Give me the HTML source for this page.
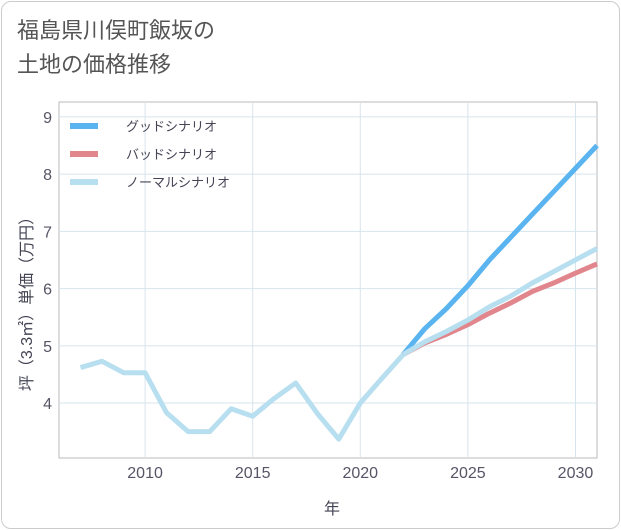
<!DOCTYPE html>
<html><head><meta charset="utf-8"><style>
body{margin:0;background:#fff;font-family:"Liberation Sans","Noto Sans CJK JP",sans-serif;}
#card{position:absolute;left:1px;top:1px;width:617px;height:526px;border:1px solid #ccc;border-radius:10px;background:#fff;}
#title{position:absolute;left:17px;top:14px;font-size:22px;line-height:34px;color:#555;}
</style></head><body>
<div id="card"></div>
<div id="title">福島県川俣町飯坂の<br>土地の価格推移</div>
<svg id="chart" width="621" height="530" style="position:absolute;left:0;top:0"></svg>
<script>
const years=[2007,2008,2009,2010,2011,2012,2013,2014,2015,2016,2017,2018,2019,2020,2021,2022];
const hist=[4.62,4.73,4.53,4.53,3.83,3.5,3.5,3.9,3.77,4.08,4.35,3.82,3.37,4.0,4.43,4.85];
const fYears=[2022,2023,2024,2025,2026,2027,2028,2029,2030,2031];
const good=[4.85,5.3,5.65,6.05,6.5,6.9,7.3,7.7,8.1,8.5];
const bad=[4.85,5.05,5.2,5.37,5.57,5.75,5.95,6.1,6.27,6.43];
const normal=[4.85,5.07,5.25,5.45,5.68,5.87,6.1,6.3,6.5,6.7];
const xTicks=[2010,2015,2020,2025,2030];
const yTicks=[4,5,6,7,8,9];
const L=59,R=597,T=102,B=458,x0=2006,x1=2031,y0=3.04,y1=9.26;
const X=v=>L+(v-x0)/(x1-x0)*(R-L), Y=v=>B-(v-y0)/(y1-y0)*(B-T);
const svg=document.getElementById('chart');const NS='http://www.w3.org/2000/svg';
function mk(t,a,txt){const e=document.createElementNS(NS,t);for(const k in a)e.setAttribute(k,a[k]);if(txt!==undefined)e.textContent=txt;svg.appendChild(e);return e;}
let e=mk('rect',{x:L,y:T,width:R-L,height:B-T,fill:'#fff',stroke:'#bbb'});


xTicks.forEach(t=>{let g=mk('line',{x1:X(t),x2:X(t),y1:T,y2:B,stroke:'#d6e4ee'});


let l=mk('text',{x:X(t),y:478,'text-anchor':'middle','font-size':16,fill:'#556'},t);

});
yTicks.forEach(t=>{let g=mk('line',{x1:L,x2:R,y1:Y(t),y2:Y(t),stroke:'#d6e4ee'});


let l=mk('text',{x:52,y:Y(t)+6,'text-anchor':'end','font-size':16,fill:'#556'},t);

});
e=mk('text',{x:332,y:514,'text-anchor':'middle','font-size':16,fill:'#445'},'年');


e=mk('text',{x:0,y:0,'text-anchor':'middle','font-size':16,fill:'#445',transform:'translate(32,300) rotate(-90)'},'坪（3.3㎡）単価（万円）');


function line(xs,ys,c,name){const p=mk('polyline',{points:xs.map((v,i)=>X(v)+','+Y(ys[i])).join(' '),fill:'none',stroke:c,'stroke-width':5,'stroke-linejoin':'round'});

}
line(fYears,good,'#5ab4f0','good-scenario-line');
line(fYears,bad,'#e0868c','bad-scenario-line');
line(fYears,normal,'#b8dff0','normal-scenario-line');
line(years,hist,'#b8dff0','historical-line');
const leg=[['グッドシナリオ','#5ab4f0'],['バッドシナリオ','#e0868c'],['ノーマルシナリオ','#b8dff0']];
leg.forEach((d,i)=>{const y=126+i*28;
let s=mk('line',{x1:70,x2:98,y1:y,y2:y,stroke:d[1],'stroke-width':6});


let t=mk('text',{x:126,y:y+5,'font-size':13,fill:'#445'},d[0]);

});
</script>
</body></html>
